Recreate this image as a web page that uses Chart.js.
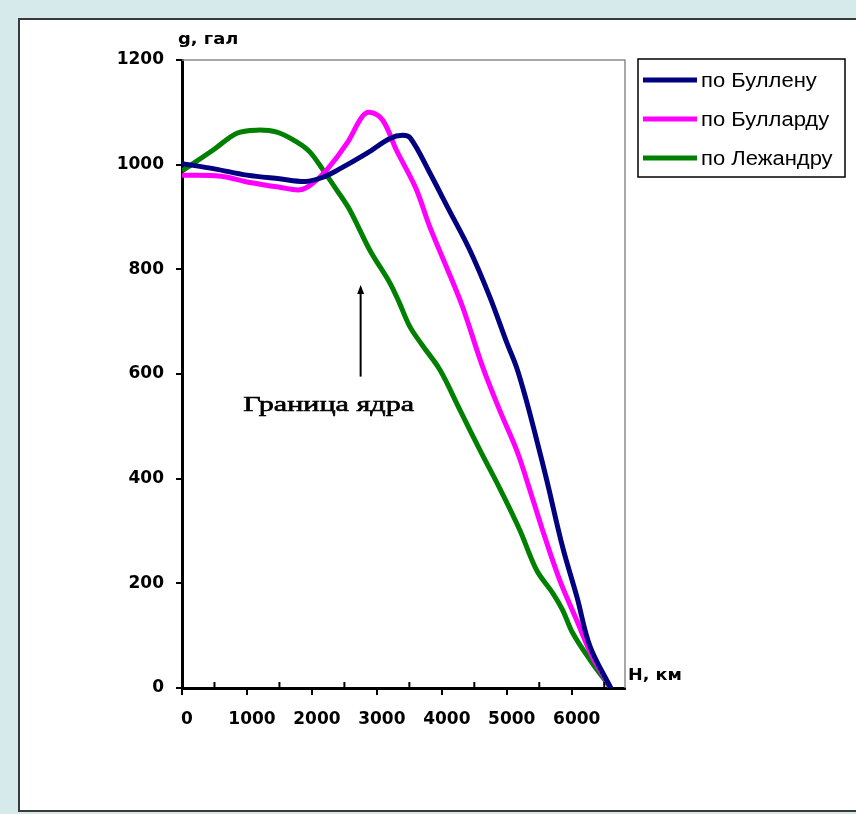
<!DOCTYPE html>
<html lang="ru">
  <head>
    <meta charset="utf-8" />
    <title>g(H)</title>
    <style>
      * {
        margin: 0;
        padding: 0;
      }
      body {
        width: 856px;
        height: 814px;
        background: rgb(214, 234, 236);
        overflow: hidden;
        position: relative;
      }
      .panel {
        position: absolute;
        left: 18px;
        top: 18px;
        width: 900px;
        height: 790px;
        background: white;
        border: 2px solid #3a3a3a;
      }
      #gChart {
        position: absolute;
        left: 0;
        top: 0;
      }
    </style>
  </head>
  <body>
    <div class="panel"></div>
    <canvas id="gChart" width="856" height="814"></canvas>

    <script src="https://cdn.jsdelivr.net/npm/chart.js@4.4.0/dist/chart.umd.min.js"></script>

    <script>
      // data block: depth H (km) and gravity g (gal)
      const bullenH = [0, 500, 1000, 1500, 1900, 2150, 2400, 2850, 3200, 3400, 3520, 3800, 4100, 4430, 4740, 5000, 5150, 5300, 5460, 5620, 5860, 6080, 6280, 6600];
      const bullenG = [1002, 992, 980, 973, 968, 975, 990, 1022, 1050, 1056, 1050, 988, 916, 837, 747, 660, 613, 550, 474, 395, 269, 174, 80, 0];

      const bullardH = [0, 600, 1000, 1500, 1820, 2000, 2230, 2540, 2770, 2890, 3090, 3300, 3600, 3815, 4070, 4320, 4630, 4890, 5150, 5300, 5550, 5815, 6075, 6320, 6600];
      const bullardG = [980, 978, 967, 957, 952, 963, 990, 1041, 1091, 1100, 1085, 1028, 955, 881, 805, 728, 613, 531, 455, 400, 302, 206, 130, 59, 0];

      const legendreH = [0, 480, 845, 1150, 1460, 1770, 1970, 2170, 2380, 2585, 2890, 3200, 3350, 3510, 3700, 3970, 4280, 4585, 4890, 5200, 5460, 5710, 5860, 6015, 6280, 6600];
      const legendreG = [988, 1028, 1060, 1066, 1062, 1043, 1024, 990, 952, 913, 837, 774, 735, 690, 655, 608, 531, 455, 382, 302, 225, 181, 149, 105, 54, 0];

      const seriesNames = ["по Буллену", "по Булларду", "по Лежандру"];
      const seriesColors = ["#000080", "#ff00ff", "#008000"];

      const xTicks = [0, 1000, 2000, 3000, 4000, 5000, 6000];
      const yTicks = [0, 200, 400, 600, 800, 1000, 1200];

      const xTitle = "H, км";
      const yTitle = "g, гал";

      // core boundary marker
      const coreLabel = "Граница ядра";
      const coreH = 2750;
      const coreArrow = [595, 770];

      const toPoints = (hs, gs) => hs.map((h, i) => ({ x: h, y: gs[i] }));

      const data = {
        datasets: [
          toPoints(bullenH, bullenG),
          toPoints(bullardH, bullardG),
          toPoints(legendreH, legendreG),
        ].map((pts, i) => ({
          label: seriesNames[i],
          data: pts,
          borderColor: seriesColors[i],
          backgroundColor: seriesColors[i],
          borderWidth: 5,
          pointRadius: 0,
          tension: 0.35,
          fill: false,
        })),
      };

      const tickFont = { family: "DejaVu Sans", weight: "bold", size: 17 };

      // draw text stretched horizontally from its anchor (x, y)
      function wideText(ctx, text, x, y, sx, thicken) {
        ctx.save();
        ctx.translate(x, y);
        ctx.scale(sx, 1);
        ctx.fillText(text, 0, 0);
        if (thicken) {
          ctx.lineWidth = thicken;
          ctx.strokeStyle = ctx.fillStyle;
          ctx.strokeText(text, 0, 0);
        }
        ctx.restore();
      }

      const decorations = {
        id: "decorations",
        beforeDatasetsDraw(chart) {
          const { ctx, chartArea } = chart;
          const { left, top, right, bottom } = chartArea;
          ctx.save();
          // gray plot frame, top and right
          ctx.strokeStyle = "#8c8c8c";
          ctx.lineWidth = 1.5;
          ctx.beginPath();
          ctx.moveTo(left, top);
          ctx.lineTo(right, top);
          ctx.lineTo(right, bottom);
          ctx.stroke();
          ctx.restore();
        },
        afterDraw(chart) {
          const { ctx, chartArea, scales } = chart;
          const { left, top, right, bottom } = chartArea;
          const x = scales.x;
          const y = scales.y;

          ctx.save();

          // half-step ticks above the x axis
          ctx.strokeStyle = "#000";
          ctx.lineWidth = 2;
          for (let v = 500; v < x.max; v += 1000) {
            const px = x.getPixelForValue(v);
            ctx.beginPath();
            ctx.moveTo(px, bottom);
            ctx.lineTo(px, bottom - 6);
            ctx.stroke();
          }

          // axis titles
          ctx.fillStyle = "#000";
          ctx.font = "bold 16px 'DejaVu Sans'";
          ctx.textBaseline = "middle";
          ctx.textAlign = "left";
          wideText(ctx, yTitle, left - 4, top - 20, 1.12);
          wideText(ctx, xTitle, right + 3, bottom - 12, 1.1);

          // arrow and label
          const ax = x.getPixelForValue(coreH);
          const ay0 = y.getPixelForValue(coreArrow[0]);
          const ay1 = y.getPixelForValue(coreArrow[1]);
          ctx.lineWidth = 2;
          ctx.beginPath();
          ctx.moveTo(ax, ay0);
          ctx.lineTo(ax, ay1 + 6);
          ctx.stroke();
          ctx.beginPath();
          ctx.moveTo(ax, ay1);
          ctx.lineTo(ax - 3.5, ay1 + 9);
          ctx.lineTo(ax + 3.5, ay1 + 9);
          ctx.closePath();
          ctx.fill();

          ctx.font = "22px 'Liberation Serif'";
          ctx.textAlign = "center";
          ctx.textBaseline = "alphabetic";
          wideText(ctx, coreLabel, ax - 32, ay0 + 34, 1.37, 0.6);

          // legend box
          const lx = right + 13;
          const ly = top - 1;
          const lw = 207;
          const lh = 118;
          ctx.fillStyle = "#fff";
          ctx.fillRect(lx, ly, lw, lh);
          ctx.strokeStyle = "#000";
          ctx.lineWidth = 1.5;
          ctx.strokeRect(lx, ly, lw, lh);

          ctx.font = "20px 'Liberation Sans'";
          ctx.textAlign = "left";
          ctx.textBaseline = "middle";
          chart.data.datasets.forEach((ds, i) => {
            const ry = ly + 21 + i * 39;
            ctx.strokeStyle = ds.borderColor;
            ctx.lineWidth = 5;
            ctx.beginPath();
            ctx.moveTo(lx + 5, ry);
            ctx.lineTo(lx + 59, ry);
            ctx.stroke();
            ctx.fillStyle = "#000";
            wideText(ctx, ds.label, lx + 63, ry + 1, 1.1);
          });

          ctx.restore();
        },
      };

      const config = {
        type: "line",
        data: data,
        options: {
          responsive: false,
          animation: false,
          layout: {
            padding: { top: 60, right: 231, left: 0, bottom: 0 },
          },
          scales: {
            x: {
              type: "linear",
              min: 0,
              max: 6820,
              border: { color: "#000", width: 3 },
              grid: {
                drawOnChartArea: false,
                drawTicks: true,
                tickLength: 7,
                lineWidth: 2,
                color: "#000",
              },
              afterBuildTicks(scale) {
                scale.ticks = xTicks.map((v) => ({ value: v }));
              },
              ticks: {
                autoSkip: false,
                color: "#000",
                font: tickFont,
                padding: 14,
                labelOffset: 5,
                maxRotation: 0,
                callback: (v) => String(v),
              },
              afterFit(scale) {
                scale.height = 126;
              },
            },
            y: {
              type: "linear",
              min: 0,
              max: 1200,
              border: { color: "#000", width: 3 },
              grid: {
                drawOnChartArea: false,
                drawTicks: true,
                tickLength: 6,
                lineWidth: 2,
                color: "#000",
              },
              afterBuildTicks(scale) {
                scale.ticks = yTicks.map((v) => ({ value: v }));
              },
              ticks: {
                autoSkip: false,
                color: "#000",
                font: tickFont,
                padding: 12,
                callback: (v) => String(v),
              },
              afterFit(scale) {
                scale.width = 182;
              },
            },
          },
          plugins: {
            legend: { display: false },
            tooltip: { enabled: false },
          },
        },
        plugins: [decorations],
      };

      // init render block
      const gChart = new Chart(document.getElementById("gChart"), config);
    </script>
  </body>
</html>
